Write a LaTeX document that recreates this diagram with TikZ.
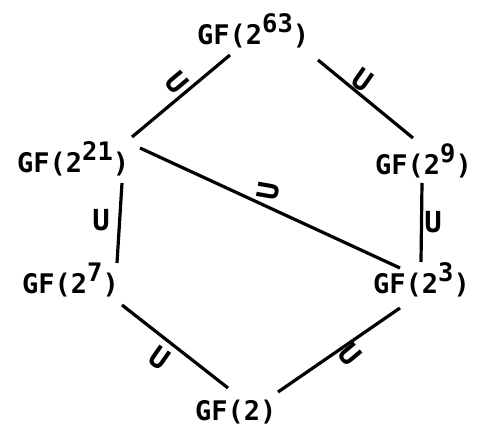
\documentclass[tikz,border=0pt]{standalone}
\usepackage{fontspec}
\newfontfamily\tw{DejaVu Sans Mono}
\newcommand\gfsup[1]{GF(2\raisebox{12pt}{\fontsize{25.5}{25.5}\selectfont #1})}
\begin{document}
\begin{tikzpicture}[x=1pt,y=-1pt,
  field/.style={inner sep=0pt,anchor=base west,font=\fontsize{27}{27}\selectfont\tw\bfseries},
  rel/.style={inner sep=0pt,font=\fontsize{29}{29}\selectfont\tw\bfseries},
  edge/.style={line width=3.2pt}]
\useasboundingbox[fill=white] (0,0) rectangle (491,444);
\node[field] (g63) at (197,45) {\gfsup{63}};
\node[field] (g21) at (17,172) {\gfsup{21}};
\node[field] (g9)  at (375,175) {\gfsup{9}};
\node[field] (g7)  at (22,293) {\gfsup{7}};
\node[field] (g3)  at (373,293) {\gfsup{3}};
\node[field] (g2)  at (195,420) {GF(2)};
\draw[edge] ([shift={(33,10)}]g63.base west) -- ([shift={(115,-35)}]g21.base west);
\draw[edge] ([shift={(121,15)}]g63.base west) -- ([shift={(38,-37)}]g9.base west);
\draw[edge] ([shift={(123,-24)}]g21.base west) -- ([shift={(27,-25)}]g3.base west);
\draw[edge] ([shift={(105,11)}]g21.base west) -- ([shift={(95,-30)}]g7.base west);
\draw[edge] ([shift={(47,8)}]g9.base west) -- ([shift={(48,-31)}]g3.base west);
\draw[edge] ([shift={(100,12)}]g7.base west) -- ([shift={(33,-32)}]g2.base west);
\draw[edge] ([shift={(27,15)}]g3.base west) -- ([shift={(83,-28)}]g2.base west);
\node[rel,rotate=-50] (s1) at (177,83) {U};
\node[rel,rotate=-35] (s2) at (363,80) {U};
\node[rel,rotate=80] (s3) at (268,191) {U};
\node[rel] (s4) at (101,220) {U};
\node[rel] (s5) at (433,222) {U};
\node[rel,rotate=-35] (s6) at (160,358) {U};
\node[rel,rotate=-50] (s7) at (350,355) {U};
\end{tikzpicture}
\end{document}
